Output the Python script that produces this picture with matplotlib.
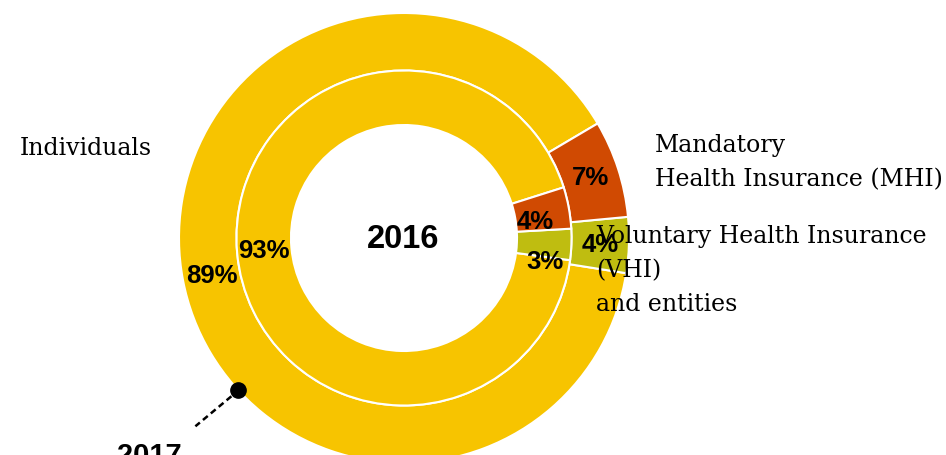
import math
import matplotlib
matplotlib.use("Agg")
import matplotlib.pyplot as plt

# Shares of health spending by payer, 2017 (outer ring) and 2016 (inner ring)
categories = ["Individuals", "Voluntary Health Insurance (VHI) and entities",
              "Mandatory Health Insurance (MHI)"]
share_2017 = [89, 4, 7]
share_2016 = [93, 3, 4]
colors = ["#F7C400", "#BFBD10", "#D04A02"]

W, H = 946, 456
fig = plt.figure(figsize=(W / 100, H / 100), dpi=100)
ax = fig.add_axes([0, 0, 1, 1])


def px(x, y):
    """Convert top-left pixel coordinates to axes data coordinates."""
    return x, H - y


cx, cy = px(404, 239)
R_out, R_mid, R_in = 225, 167.5, 113

pct_font = dict(family=["Liberation Sans", "DejaVu Sans"], fontsize=18.5,
                fontweight="bold", color="black")

# Outer ring: 2017
w_out, _, pct_out = ax.pie(
    share_2017, radius=R_out, center=(cx, cy), startangle=30.6,
    colors=colors, autopct="%.0f%%", pctdistance=0.871,
    wedgeprops=dict(width=R_out - R_mid, edgecolor="white", linewidth=1.5),
    textprops=pct_font)

# Inner ring: 2016
w_in, _, pct_in = ax.pie(
    share_2016, radius=R_mid, center=(cx, cy), startangle=17.6,
    colors=colors, autopct="%.0f%%", pctdistance=0.84,
    wedgeprops=dict(width=R_mid - R_in, edgecolor="white", linewidth=1.5),
    textprops=pct_font)

# nudge the two small inner labels so they stay readable
pct_in[1].set_position(px(545, 262))
pct_in[2].set_position(px(535, 222))

ax.set_xlim(0, W)
ax.set_ylim(0, H)
ax.set_aspect("equal")
ax.axis("off")

# centre year
ax.text(*px(403, 248), "2016", ha="center", va="baseline",
        family=["Liberation Sans", "DejaVu Sans"], fontsize=23.5,
        fontweight="bold", color="black")

# marker pointing at the outer ring
ang = math.radians(222.6)
dot_x = cx + R_out * math.cos(ang)
dot_y = cy + R_out * math.sin(ang)
ax.plot([dot_x - 7, dot_x - 43], [dot_y - 6, dot_y - 36], ls=(0, (2.5, 1.6)),
        color="black", lw=1.8, solid_capstyle="butt")
ax.plot(dot_x, dot_y, "o", color="black", markersize=11)
ax.text(*px(182, 464), "2017", ha="right", va="baseline",
        family=["Liberation Sans", "DejaVu Sans"], fontsize=21,
        fontweight="bold", color="black", clip_on=False)

# category labels
serif = dict(family=["DejaVu Serif"], fontsize=17, color="black",
             ha="left", va="baseline")
ax.text(*px(20, 155), "Individuals", **serif)
ax.text(*px(655, 152), "Mandatory", **serif)
ax.text(*px(655, 186), "Health Insurance (MHI)", **serif)
ax.text(*px(596, 243), "Voluntary Health Insurance", **serif)
ax.text(*px(596, 277), "(VHI)", **serif)
ax.text(*px(596, 311), "and entities", **serif)

fig.savefig("out.png", dpi=100)
